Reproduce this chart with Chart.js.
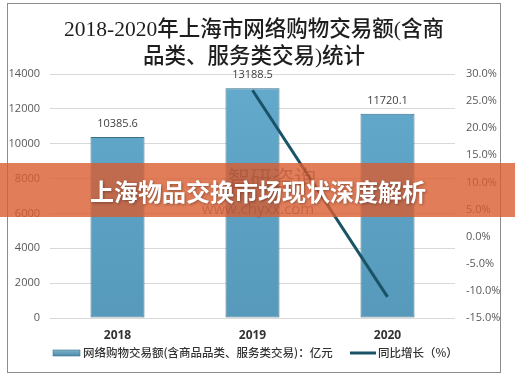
<!DOCTYPE html>
<html><head><meta charset="utf-8">
<script src="https://cdn.jsdelivr.net/npm/chart.js@4.4.1/dist/chart.umd.min.js"></script>
<style>html,body{margin:0;padding:0;background:#fff}#wrap{width:515px;height:381px;position:relative}</style>
</head><body><div id="wrap"><canvas id="c" width="515" height="381"></canvas></div>
<script>
const categories = ['2018', '2019', '2020'];
const amountValues = [10385.6, 13188.5, 11720.1];
const growthValues = [null, 27.0, -11.1];
const amountLabel = '网络购物交易额(含商品品类、服务类交易)：亿元';
const growthLabel = '同比增长（%）';
const titleLines = ['2018-2020年上海市网络购物交易额(含商', '品类、服务类交易)统计'];
const bannerText = '上海物品交换市场现状深度解析';
const leftTicks = [0, 2000, 4000, 6000, 8000, 10000, 12000, 14000];
const rightTicks = [-15, -10, -5, 0, 5, 10, 15, 20, 25, 30];

const SANS = '"Open Sans", "Noto Sans CJK SC", sans-serif';
const CJK = '"Noto Sans CJK SC", sans-serif';

const decor = {
  id: 'decor',
  beforeDraw(chart) {
    const ctx = chart.ctx;
    ctx.save();
    ctx.fillStyle = '#fff';
    ctx.fillRect(0, 0, chart.width, chart.height);
    ctx.strokeStyle = '#8c8c8c';
    ctx.lineWidth = 1;
    ctx.strokeRect(7.5, 3.5, 493, 369);
    ctx.fillStyle = '#1e1e1e';
    ctx.textAlign = 'center';
    ctx.textBaseline = 'middle';
    ctx.font = '500 21.5px "Liberation Serif", "Noto Sans CJK SC", serif';
    ctx.fillText(titleLines[0], 254, 30);
    ctx.fillText(titleLines[1], 254, 57);
    ctx.restore();
  },
  afterDatasetsDraw(chart) {
    const ctx = chart.ctx;
    ctx.save();
    const meta = chart.getDatasetMeta(0);
    ctx.fillStyle = '#404040';
    ctx.font = '11px ' + SANS;
    ctx.textAlign = 'center';
    ctx.textBaseline = 'middle';
    meta.data.forEach((el, i) => {
      ctx.fillText(amountValues[i].toFixed(1), el.x, el.y - 13);
    });
    const g = ctx.createLinearGradient(0, 350, 0, 356);
    g.addColorStop(0, '#7fb3cc');
    g.addColorStop(1, '#4d8aa8');
    ctx.fillStyle = g;
    ctx.fillRect(53, 350, 27, 6);
    ctx.strokeStyle = '#3d7590';
    ctx.lineWidth = 0.6;
    ctx.strokeRect(53, 350, 27, 6);
    ctx.fillStyle = '#333333';
    ctx.textAlign = 'left';
    ctx.font = '500 11.5px ' + CJK;
    ctx.fillText(amountLabel, 83, 353);
    ctx.strokeStyle = '#1a5368';
    ctx.lineWidth = 3;
    ctx.beginPath();
    ctx.moveTo(350, 353);
    ctx.lineTo(376, 353);
    ctx.stroke();
    ctx.fillText(growthLabel, 378, 353);
    ctx.restore();
  },
  afterDraw(chart) {
    const ctx = chart.ctx;
    ctx.save();
    ctx.fillStyle = 'rgba(218, 92, 48, 0.80)';
    ctx.fillRect(0, 163, chart.width, 54);
    ctx.textAlign = 'center';
    ctx.textBaseline = 'middle';
    ctx.fillStyle = 'rgba(150, 60, 40, 0.35)';
    ctx.font = '22px ' + CJK;
    ctx.fillText('智研咨询', 272, 178);
    ctx.font = '15px ' + SANS;
    ctx.fillText('www.chyxx.com', 258, 210);
    ctx.shadowColor = 'rgba(0,0,0,0.35)';
    ctx.shadowBlur = 3;
    ctx.shadowOffsetX = 1;
    ctx.shadowOffsetY = 1;
    ctx.fillStyle = '#ffffff';
    ctx.font = 'bold 24px ' + CJK;
    ctx.fillText(bannerText, 258, 192);
    ctx.restore();
  }
};

const ctx = document.getElementById('c').getContext('2d');
const barGrad = ctx.createLinearGradient(0, 318, 0, 88);
barGrad.addColorStop(0, '#5699bb');
barGrad.addColorStop(1, '#62a9cb');

new Chart(ctx, {
  type: 'bar',
  data: {
    labels: categories,
    datasets: [
      {
        type: 'bar',
        label: amountLabel,
        data: amountValues,
        yAxisID: 'y',
        backgroundColor: barGrad,
        borderColor: '#3b6f88',
        borderWidth: 1,
        borderSkipped: false,
        categoryPercentage: 1,
        barPercentage: 0.4,
        order: 2
      },
      {
        type: 'line',
        label: growthLabel,
        data: growthValues,
        yAxisID: 'y1',
        borderColor: '#1a5368',
        backgroundColor: '#1a5368',
        borderWidth: 3,
        pointRadius: 0,
        spanGaps: false,
        order: 1
      }
    ]
  },
  options: {
    responsive: false,
    animation: false,
    devicePixelRatio: 1,
    layout: { padding: { top: 74, left: 0, right: 0, bottom: 0 } },
    plugins: { legend: { display: false }, title: { display: false }, tooltip: { enabled: false } },
    scales: {
      x: {
        grid: { display: false, drawTicks: false },
        border: { display: false },
        ticks: { color: '#333', font: { family: SANS, size: 12, weight: 'bold' }, padding: 10 },
        afterFit(s) { s.height = 63; }
      },
      y: {
        position: 'left',
        min: 0, max: 14000,
        afterBuildTicks(s) { s.ticks = leftTicks.map(v => ({ value: v })); },
        grid: { color: '#d9d9d9', drawTicks: false },
        border: { display: false },
        ticks: { color: '#595959', font: { family: SANS, size: 11 }, padding: 10,
          callback: v => String(v) },
        afterFit(s) { s.width = 50; }
      },
      y1: {
        position: 'right',
        min: -15, max: 30,
        afterBuildTicks(s) { s.ticks = rightTicks.map(v => ({ value: v })); },
        grid: { display: false, drawTicks: false },
        border: { display: false },
        ticks: { color: '#595959', font: { family: SANS, size: 11 }, padding: 11,
          callback: v => v.toFixed(1) + '%' },
        afterFit(s) { s.width = 60; }
      }
    }
  },
  plugins: [decor]
});
</script></body></html>
